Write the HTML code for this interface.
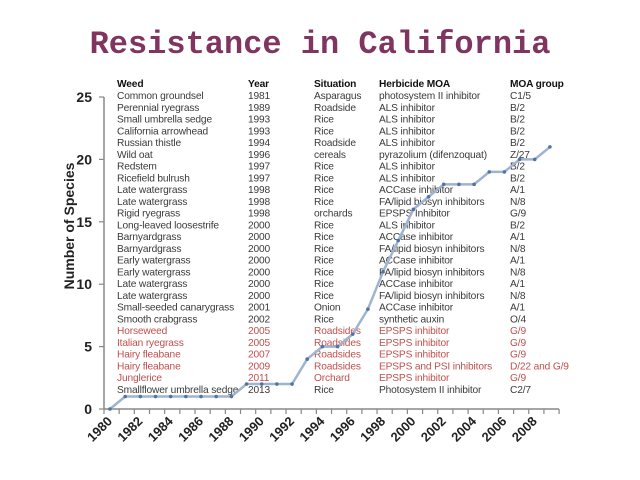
<!DOCTYPE html>
<html><head><meta charset="utf-8"><style>
html,body{margin:0;padding:0;background:#fff;}
svg{display:block}
.t{font-family:"Liberation Sans",sans-serif;font-size:10.2px;fill:#3a3a3a;letter-spacing:-0.15px}
.r{fill:#c0504d}
.h{font-weight:bold;fill:#111}
.ax{font-family:"Liberation Sans",sans-serif;font-weight:bold;font-size:14px;fill:#222}
.xl{font-family:"Liberation Sans",sans-serif;font-weight:bold;font-size:13px;fill:#222}
</style></head><body>
<svg width="640" height="480" viewBox="0 0 640 480" xmlns="http://www.w3.org/2000/svg">
<text x="320" y="53" text-anchor="middle" font-family="Liberation Mono, monospace" font-weight="bold" font-size="32" fill="#7f3560">Resistance in California</text>
<line x1="104" y1="97" x2="104" y2="409" stroke="#888" stroke-width="1.5"/>
<line x1="104" y1="409" x2="559" y2="409" stroke="#888" stroke-width="1.5"/>
<g stroke="#888" stroke-width="1.2">
<line x1="99" y1="97" x2="104" y2="97"/><line x1="99" y1="159.4" x2="104" y2="159.4"/><line x1="99" y1="221.8" x2="104" y2="221.8"/><line x1="99" y1="284.2" x2="104" y2="284.2"/><line x1="99" y1="346.6" x2="104" y2="346.6"/><line x1="99" y1="409" x2="104" y2="409"/>
</g>
<g id="xt" stroke="#888" stroke-width="1.2"></g>
<g class="ax" text-anchor="end">
<text x="92" y="102">25</text><text x="92" y="164.4">20</text><text x="92" y="226.8">15</text><text x="92" y="289.2">10</text><text x="92" y="351.6">5</text><text x="92" y="414">0</text>
</g>
<text class="ax" transform="translate(74,226) rotate(-90)" text-anchor="middle" font-size="13">Number of Species</text>
<g id="xl" class="xl"></g>
<g id="tb"></g>
<polyline id="ln" fill="none" stroke="#9fb4cf" stroke-width="2.5" stroke-linejoin="round"/>
<g id="mk" fill="#4f74a8"></g>
</svg>
<script>
var ns="http://www.w3.org/2000/svg";
function el(p,n,a,t){var e=document.createElementNS(ns,n);for(var k in a)e.setAttribute(k,a[k]);if(t)e.textContent=t;p.appendChild(e);return e;}
var xt=document.getElementById('xt');
for(var i=0;i<=30;i++){var x=104+i*15.17;el(xt,'line',{x1:x,y1:409,x2:x,y2:414});}
var xl=document.getElementById('xl');
for(var y=1980;y<=2008;y+=2){var cx=110+(y-1980)*15.17;el(xl,'text',{transform:'translate('+(cx+3)+',422) rotate(-45)','text-anchor':'end'},String(y));}
var v=[0,1,1,1,1,1,1,1,1,2,2,2,2,4,5,5,6,8,11,13.5,16,17,18,18,18,19,19,20,20,21];
var pts=[],mk=document.getElementById('mk');
v.forEach(function(d,i){var x=110+i*15.17,y=409-d*12.48;pts.push(x+','+y);el(mk,'circle',{cx:x,cy:y,r:1.8});});
document.getElementById('ln').setAttribute('points',pts.join(' '));
var rows=[
["Common groundsel","1981","Asparagus","photosystem II inhibitor","C1/5"],
["Perennial ryegrass","1989","Roadside","ALS inhibitor","B/2"],
["Small umbrella sedge","1993","Rice","ALS inhibitor","B/2"],
["California arrowhead","1993","Rice","ALS inhibitor","B/2"],
["Russian thistle","1994","Roadside","ALS inhibitor","B/2"],
["Wild oat","1996","cereals","pyrazolium (difenzoquat)","Z/27"],
["Redstem","1997","Rice","ALS inhibitor","B/2"],
["Ricefield bulrush","1997","Rice","ALS inhibitor","B/2"],
["Late watergrass","1998","Rice","ACCase inhibitor","A/1"],
["Late watergrass","1998","Rice","FA/lipid biosyn inhibitors","N/8"],
["Rigid ryegrass","1998","orchards","EPSPS Inhibitor","G/9"],
["Long-leaved loosestrife","2000","Rice","ALS inhibitor","B/2"],
["Barnyardgrass","2000","Rice","ACCase inhibitor","A/1"],
["Barnyardgrass","2000","Rice","FA/lipid biosyn inhibitors","N/8"],
["Early watergrass","2000","Rice","ACCase inhibitor","A/1"],
["Early watergrass","2000","Rice","FA/lipid biosyn inhibitors","N/8"],
["Late watergrass","2000","Rice","ACCase inhibitor","A/1"],
["Late watergrass","2000","Rice","FA/lipid biosyn inhibitors","N/8"],
["Small-seeded canarygrass","2001","Onion","ACCase inhibitor","A/1"],
["Smooth crabgrass","2002","Rice","synthetic auxin","O/4"],
["Horseweed","2005","Roadsides","EPSPS inhibitor","G/9",1],
["Italian ryegrass","2005","Roadsides","EPSPS inhibitor","G/9",1],
["Hairy fleabane","2007","Roadsides","EPSPS inhibitor","G/9",1],
["Hairy fleabane","2009","Roadsides","EPSPS and PSI inhibitors","D/22 and G/9",1],
["Junglerice","2011","Orchard","EPSPS inhibitor","G/9",1],
["Smallflower umbrella sedge","2013","Rice","Photosystem II inhibitor","C2/7"]];
var cols=[117,248,314,379,510],tb=document.getElementById('tb');
var hd=["Weed","Year","Situation","Herbicide MOA","MOA group"];
hd.forEach(function(h,j){el(tb,'text',{x:cols[j],y:87,'class':'t h'},h);});
rows.forEach(function(r,i){var y=99+i*11.76;for(var j=0;j<5;j++)el(tb,'text',{x:cols[j],y:y,'class':r[5]?'t r':'t'},r[j]);});
</script>
</body></html>
